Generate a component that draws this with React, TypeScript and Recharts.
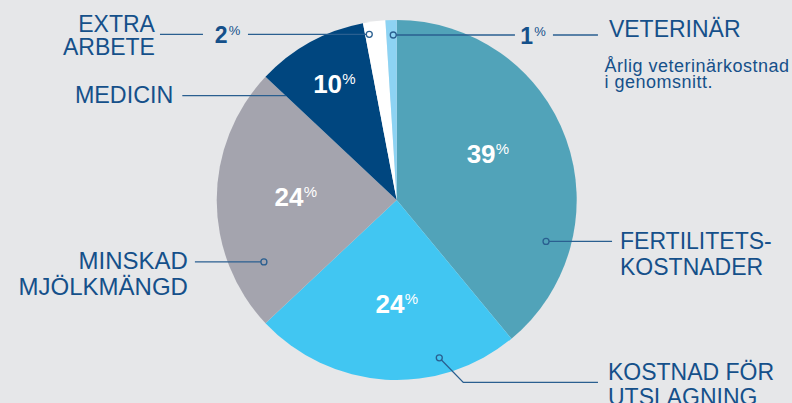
import React from "react";
import { PieChart, Pie, Cell } from "recharts";

// ---- data ----
const categories = [
  "Fertilitetskostnader",
  "Kostnad för utslagning",
  "Minskad mjölkmängd",
  "Medicin",
  "Extra arbete",
  "Veterinär",
];
const shares = [39, 24, 24, 10, 2, 1];
const labelLines = [
  ["FERTILITETS-", "KOSTNADER"],
  ["KOSTNAD FÖR", "UTSLAGNING"],
  ["MINSKAD", "MJÖLKMÄNGD"],
  ["MEDICIN"],
  ["EXTRA", "ARBETE"],
  ["VETERINÄR"],
];
const noteLines = ["Årlig veterinärkostnad", "i genomsnitt."];

const data = categories.map((name, i) => ({ name, value: shares[i] }));

// ---- styles ----
const W = 792;
const H = 403;
const BG = "#e6e7e9";
const sliceColors = ["#51a3b9", "#41c6f2", "#a4a4ae", "#00467f", "#ffffff", "#8dd3f3"];
const TEXT = "#15508a";
const LINE = "#2a5f90";
const FONT = "'Liberation Sans', Arial, Helvetica, sans-serif";

const RAD = Math.PI / 180;
const polar = (cx: number, cy: number, r: number, theta: number) => ({
  x: cx + r * Math.sin(theta * RAD),
  y: cy - r * Math.cos(theta * RAD),
});

// inner percentage label placement (angle shift from mid angle, radius factor)
const innerPlace: ({ shift: number; rf: number } | null)[] = [
  { shift: -5.2, rf: 0.606 },
  { shift: -7.9, rf: 0.579 },
  { shift: 1.8, rf: 0.518 },
  { shift: 3.6, rf: 0.713 },
  null,
  null,
];

// leader anchor placement
const anchorPlace = [
  { shift: 35.3, rf: 0.861, dot: true },
  { shift: -18.7, rf: 0.908, dot: true },
  { shift: -25, rf: 0.814, dot: true },
  { shift: -17.9, rf: 0.845, dot: false },
  { shift: -2.2, rf: 0.933, dot: true },
  { shift: 0.6, rf: 0.917, dot: true },
];

// relative to anchor point
const leaderPaths: [number, number][][][] = [
  [[[0, 0], [66, 0]]],
  [[[0, 0], [24, 24.6], [158.7, 24.6]]],
  [[[0, 0], [-69, 0]]],
  [[[0, 0], [-103.7, 0]]],
  [[[0, 0], [-121.3, 0]], [[-166.3, 0], [-209.3, 0]]],
  [[[0, 0], [121.7, 0]], [[159.7, 0], [204.7, 0]]],
];
const textPlace = [
  { dx: 74, anchor: "start", dys: [8, 33.5], size: 23 },
  { dx: 168.7, anchor: "start", dys: [21.8, 47.3], size: 23 },
  { dx: -76, anchor: "end", dys: [7, 33], size: 24 },
  { dx: -112.7, anchor: "end", dys: [7], size: 23.3 },
  { dx: -214.3, anchor: "end", dys: [-2.3, 20.7], size: 23 },
  { dx: 215.7, anchor: "start", dys: [2], size: 23 },
];
const outerPct: ({ dx: number; dy: number } | null)[] = [null, null, null, null, { dx: -141.8, dy: 9 }, { dx: 139.7, dy: 9 }];

const renderLabel = (props: any) => {
  const { cx, cy, midAngle, outerRadius, index } = props;
  const theta = 90 - midAngle;
  const pct = shares[index];
  const els: React.ReactNode[] = [];

  const ip = innerPlace[index];
  if (ip) {
    const p = polar(cx, cy, outerRadius * ip.rf, theta + ip.shift);
    els.push(
      <text key="d" x={p.x} y={p.y + 9} textAnchor="end" fill="#ffffff" fontFamily={FONT} fontWeight="bold" fontSize={26}>
        {pct}
      </text>,
      <text key="p" x={p.x + 0.3} y={p.y} textAnchor="start" fill="#ffffff" fontFamily={FONT} fontSize={15}>
        %
      </text>
    );
  }

  const ap = anchorPlace[index];
  const a = polar(cx, cy, outerRadius * ap.rf, theta + ap.shift);
  leaderPaths[index].forEach((seg, si) => {
    const d = seg.map((pt, k) => `${k === 0 ? "M" : "L"}${a.x + pt[0]},${a.y + pt[1]}`).join(" ");
    els.push(<path key={`l${si}`} d={d} stroke={LINE} strokeWidth={1.3} fill="none" />);
  });
  if (ap.dot) {
    els.push(
      <circle key="c" cx={a.x} cy={a.y} r={3} fill={sliceColors[index]} stroke={LINE} strokeWidth={1.3} />
    );
  }

  const op = outerPct[index];
  if (op) {
    els.push(
      <text key="od" x={a.x + op.dx} y={a.y + op.dy} textAnchor="end" fill={TEXT} fontFamily={FONT} fontWeight="bold" fontSize={23}>
        {pct}
      </text>,
      <text key="op" x={a.x + op.dx + 1.2} y={a.y + op.dy - 8} textAnchor="start" fill={TEXT} fontFamily={FONT} fontSize={13}>
        %
      </text>
    );
  }

  const tp = textPlace[index];
  labelLines[index].forEach((line, li) => {
    els.push(
      <text
        key={`t${li}`}
        x={a.x + tp.dx}
        y={a.y + tp.dys[li]}
        textAnchor={tp.anchor as any}
        fill={TEXT}
        fontFamily={FONT}
        fontSize={tp.size}
      >
        {line}
      </text>
    );
  });

  if (index === 5) {
    noteLines.forEach((line, li) => {
      els.push(
        <text
          key={`n${li}`}
          x={a.x + 211.2}
          y={a.y + 37 + li * 16.3}
          textAnchor="start"
          fill={TEXT}
          fontFamily={FONT}
          fontSize={18}
          letterSpacing={0.5}
        >
          {line}
        </text>
      );
    });
  }

  return <g>{els}</g>;
};

export default function App() {
  return (
    <div style={{ position: "absolute", left: 0, top: 0, width: W, height: H, background: BG, overflow: "hidden" }}>
      <PieChart width={W} height={H} margin={{ top: 0, right: 0, bottom: 0, left: 0 }}>
        <Pie
          data={data}
          dataKey="value"
          nameKey="name"
          cx={396.7}
          cy={200}
          outerRadius={180}
          startAngle={90}
          endAngle={-270}
          stroke="none"
          label={renderLabel}
          labelLine={false}
          isAnimationActive={false}
        >
          {data.map((d, i) => (
            <Cell key={d.name} fill={sliceColors[i]} />
          ))}
        </Pie>
      </PieChart>
    </div>
  );
}
